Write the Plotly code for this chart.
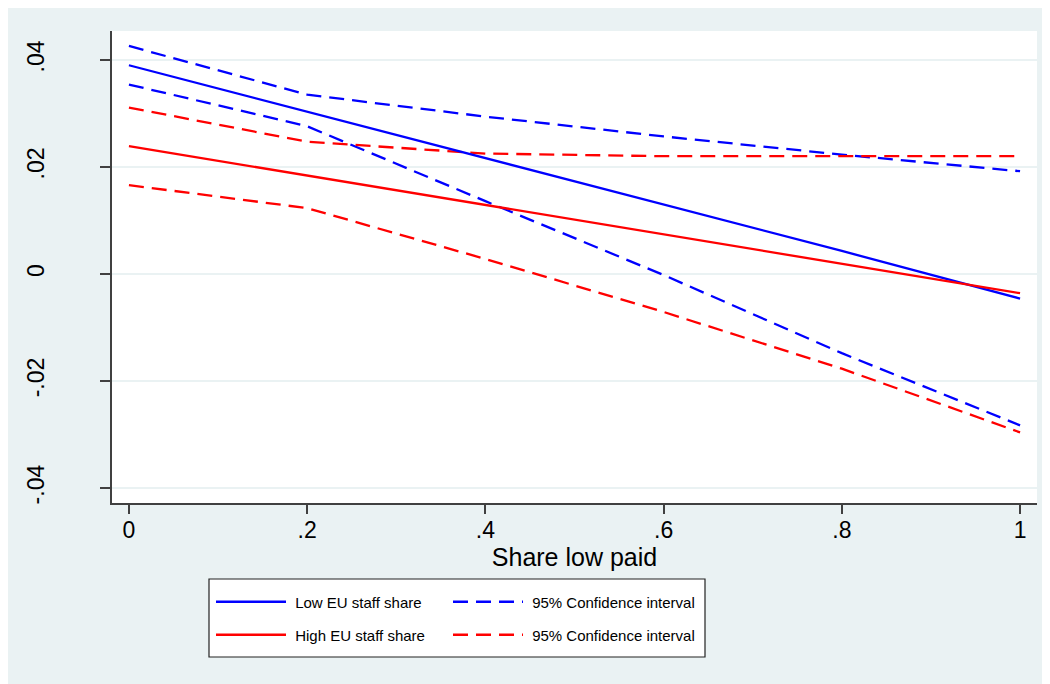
import plotly.graph_objects as go

share_low_paid = [0, 0.2, 0.4, 0.6, 0.8, 1.0]
low_eu_fit = [0.0390, 0.0303, 0.0216, 0.0129, 0.0043, -0.0046]
low_eu_ub = [0.0426, 0.0335, 0.0294, 0.0257, 0.0223, 0.0192]
low_eu_lb = [0.0354, 0.0276, 0.0136, -0.0002, -0.0148, -0.0283]
high_eu_fit = [0.0239, 0.0184, 0.0129, 0.0074, 0.0019, -0.0036]
high_eu_ub = [0.0311, 0.0247, 0.0225, 0.0220, 0.0220, 0.0220]
high_eu_lb = [0.0166, 0.0123, 0.0028, -0.0071, -0.0177, -0.0296]

x_ticks = [0, 0.2, 0.4, 0.6, 0.8, 1.0]
x_ticklabels = ["0", ".2", ".4", ".6", ".8", "1"]
y_ticks = [-0.04, -0.02, 0, 0.02, 0.04]
y_ticklabels = ["-.04", "-.02", "0", ".02", ".04"]

BLUE = "#0000FF"
RED = "#FF0000"
BG = "#EAF2F3"
FONT = "Liberation Sans, Arial, sans-serif"
DASH = "15px,8px"
NB = "\u00a0"

OFF = 8  # page body margin
W, H = 1050, 684
L, T = 112 - OFF, 31 - OFF
PR, PB = 1037 - OFF, 503 - OFF
R, B = W - PR, H - PB
pw, ph = PR - L, PB - T


def sx(px):
    return (px - OFF - L) / pw


def sy(py):
    return (PB - (py - OFF)) / ph


fig = go.Figure()
fig.add_trace(go.Scatter(x=share_low_paid, y=low_eu_ub, mode="lines",
                         line=dict(color=BLUE, width=2.3, dash=DASH),
                         name=NB + "95% Confidence interval", legend="legend3"))
fig.add_trace(go.Scatter(x=share_low_paid, y=low_eu_lb, mode="lines",
                         line=dict(color=BLUE, width=2.3, dash=DASH),
                         showlegend=False))
fig.add_trace(go.Scatter(x=share_low_paid, y=high_eu_ub, mode="lines",
                         line=dict(color=RED, width=2.3, dash=DASH),
                         name=NB + "95% Confidence interval", legend="legend4"))
fig.add_trace(go.Scatter(x=share_low_paid, y=high_eu_lb, mode="lines",
                         line=dict(color=RED, width=2.3, dash=DASH),
                         showlegend=False))
fig.add_trace(go.Scatter(x=share_low_paid, y=low_eu_fit, mode="lines",
                         line=dict(color=BLUE, width=2.3),
                         name=NB + "Low EU staff share", legend="legend"))
fig.add_trace(go.Scatter(x=share_low_paid, y=high_eu_fit, mode="lines",
                         line=dict(color=RED, width=2.3),
                         name=NB + "High EU staff share", legend="legend2"))

legend_common = dict(
    orientation="v",
    xanchor="left",
    yanchor="middle",
    font=dict(family=FONT, size=15, color="black"),
    bgcolor="rgba(0,0,0,0)",
    borderwidth=0,
    itemwidth=70,
    itemclick=False,
    itemdoubleclick=False,
)
COL1, COL2 = 211, 448
ROW1, ROW2 = 602, 635

fig.update_layout(
    width=W, height=H,
    margin=dict(l=L, r=R, t=T, b=B, pad=0),
    paper_bgcolor=BG,
    plot_bgcolor="white",
    font=dict(family=FONT, size=23, color="black"),
    legend=dict(legend_common, x=sx(COL1), y=sy(ROW1)),
    legend2=dict(legend_common, x=sx(COL1), y=sy(ROW2)),
    legend3=dict(legend_common, x=sx(COL2), y=sy(ROW1)),
    legend4=dict(legend_common, x=sx(COL2), y=sy(ROW2)),
    xaxis=dict(
        range=[-0.019, 1.019],
        tickmode="array", tickvals=x_ticks, ticktext=x_ticklabels,
        ticks="outside", ticklen=9, tickwidth=1.5, tickcolor="#404040",
        showline=True, linecolor="#404040", linewidth=1.5,
        showgrid=False, zeroline=False,
        tickfont=dict(size=23),
        ticklabelstandoff=-3,
        title=dict(text="Share low paid", font=dict(size=25), standoff=0),
    ),
    yaxis=dict(
        range=[-0.0428, 0.0454],
        tickmode="array", tickvals=y_ticks, ticktext=y_ticklabels,
        ticks="outside", ticklen=10, tickwidth=1.5, tickcolor="#404040",
        showline=True, linecolor="#404040", linewidth=1.5,
        showgrid=True, gridcolor=BG, gridwidth=2,
        zeroline=False,
        tickangle=-90,
        tickfont=dict(size=23),
        ticklabelstandoff=47,
    ),
    shapes=[
        dict(type="rect", xref="paper", yref="paper",
             x0=sx(209), x1=sx(705), y0=sy(657), y1=sy(579),
             line=dict(color="#222222", width=1.2), fillcolor="white", layer="below"),
    ],
)

fig.write_html("out.html")
